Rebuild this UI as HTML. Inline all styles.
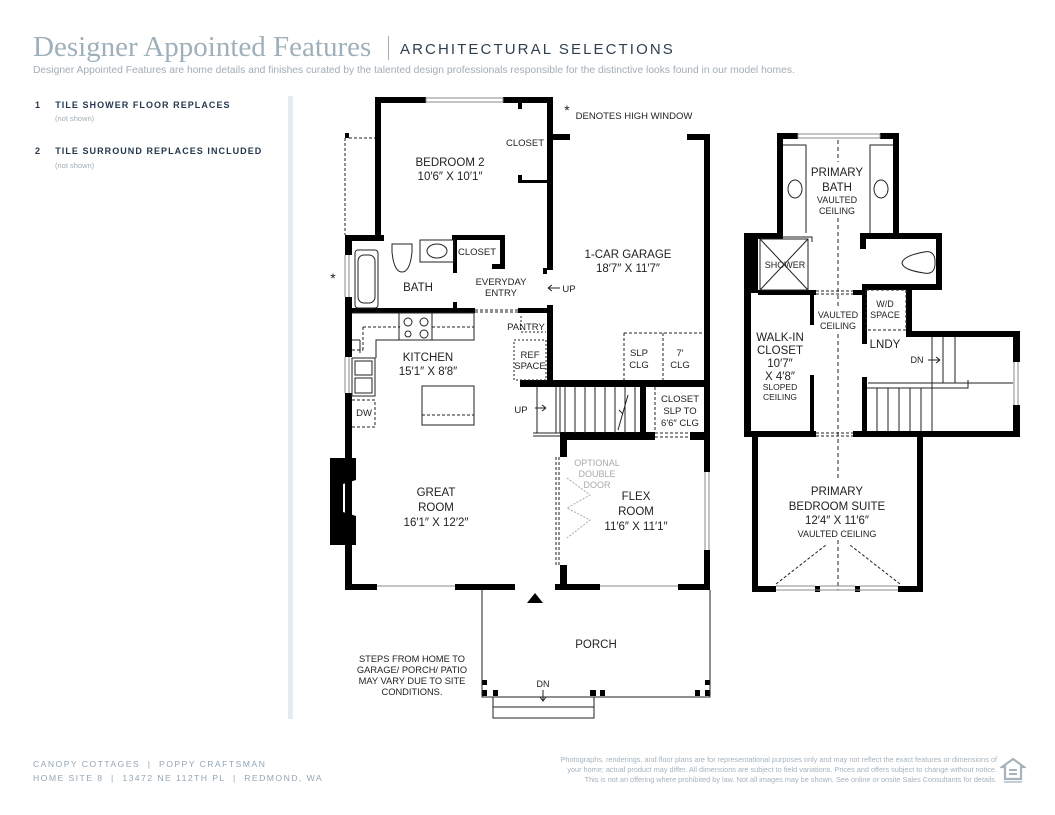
<!DOCTYPE html>
<html><head><meta charset="utf-8"><style>
html,body{margin:0;padding:0;background:#fff;}
body{width:1055px;height:815px;position:relative;overflow:hidden;font-family:"Liberation Sans",sans-serif;}
.t{position:absolute;white-space:nowrap;}
</style></head><body>
<div class="t" style="left:33px;top:31px;font-family:'Liberation Serif',serif;font-size:29px;color:#9fb0ba;">Designer Appointed Features</div>
<div class="t" style="left:388px;top:36px;width:1px;height:24px;background:#9fb0ba;"></div>
<div class="t" style="left:400px;top:41px;font-size:15px;letter-spacing:2.1px;color:#2f3f4e;">ARCHITECTURAL SELECTIONS</div>
<div class="t" style="left:33px;top:65px;font-size:10.3px;color:#a3adb5;">Designer Appointed Features are home details and finishes curated by the talented design professionals responsible for the distinctive looks found in our model homes.</div>
<div class="t" style="left:35px;top:100px;font-size:9px;font-weight:bold;letter-spacing:1.05px;color:#24384d;">1&nbsp;&nbsp;&nbsp;&nbsp;TILE SHOWER FLOOR REPLACES</div>
<div class="t" style="left:55px;top:114px;font-size:7.5px;color:#a3adb5;">(not shown)</div>
<div class="t" style="left:35px;top:146px;font-size:9px;font-weight:bold;letter-spacing:1.05px;color:#24384d;">2&nbsp;&nbsp;&nbsp;&nbsp;TILE SURROUND REPLACES INCLUDED</div>
<div class="t" style="left:55px;top:161px;font-size:7.5px;color:#a3adb5;">(not shown)</div>
<div class="t" style="left:288px;top:96px;width:5px;height:623px;background:#e6ebef;"></div>
<div class="t" style="left:33px;top:759px;font-size:8.7px;letter-spacing:1.4px;color:#93a6b5;">CANOPY COTTAGES &nbsp;| &nbsp;POPPY CRAFTSMAN</div>
<div class="t" style="left:33px;top:773px;font-size:8.7px;letter-spacing:1.4px;color:#93a6b5;">HOME SITE 8 &nbsp;| &nbsp;13472 NE 112TH PL &nbsp;| &nbsp;REDMOND, WA</div>
<div class="t" style="right:58px;top:755px;font-size:7.3px;line-height:10px;color:#a6b3bd;text-align:right;">Photographs, renderings, and floor plans are for representational purposes only and may not reflect the exact features or dimensions of<br>your home; actual product may differ. All dimensions are subject to field variations. Prices and offers subject to change without notice.<br>This is not an offering where prohibited by law. Not all images may be shown. See online or onsite Sales Consultants for details.</div>
<svg class="t" style="left:1000px;top:757px" width="26" height="28" viewBox="0 0 26 28"><path d="M13 2 L24 10 L21 10 L21 22 L5 22 L5 10 L2 10 Z" fill="none" stroke="#a6b3bd" stroke-width="2.2"/><rect x="9" y="12" width="8" height="2" fill="#a6b3bd"/><rect x="9" y="16" width="8" height="2" fill="#a6b3bd"/><rect x="4" y="24" width="18" height="2" fill="#c4ced5"/></svg>

<svg class="t" style="left:0;top:0" width="1055" height="815" viewBox="0 0 1055 815" font-family="Liberation Sans, sans-serif" fill="#111">
<g fill="#000">
<rect x="375" y="97" width="51" height="6"/><rect x="503" y="97" width="50" height="6"/>
<rect x="375" y="97" width="6" height="143"/>
<rect x="547" y="97" width="6" height="173"/>
<rect x="518" y="103" width="4" height="6"/><rect x="518" y="175" width="4" height="8"/><rect x="518" y="180" width="30" height="3"/>
<rect x="345" y="133" width="4" height="5"/>
<rect x="553" y="134" width="17" height="6"/><rect x="687" y="134" width="23" height="6"/>
<rect x="704" y="134" width="6" height="338"/><rect x="704" y="550" width="6" height="40"/>
<rect x="547" y="305" width="6" height="82"/>
<rect x="345" y="235" width="36" height="6"/><rect x="381" y="235" width="3" height="6"/>
<rect x="452" y="235" width="53" height="5"/><rect x="500" y="235" width="5" height="33"/><rect x="492" y="264" width="13" height="5"/>
<rect x="453" y="240" width="4" height="33"/>
<rect x="345" y="235" width="7" height="20"/><rect x="345" y="297" width="7" height="60"/><rect x="345" y="393" width="7" height="197"/>
<rect x="352" y="308" width="123" height="5"/><rect x="453" y="302" width="4" height="10"/>
<rect x="518" y="308" width="30" height="5"/>
<rect x="543" y="268" width="4" height="6"/>
<rect x="520" y="380" width="190" height="7"/>
<rect x="640" y="387" width="6" height="53"/>
<rect x="560" y="432" width="95" height="8"/><rect x="690" y="432" width="20" height="8"/>
<rect x="560" y="432" width="7" height="25"/><rect x="560" y="565" width="7" height="25"/>
<rect x="345" y="584" width="32" height="6"/><rect x="455" y="584" width="60" height="6"/><rect x="555" y="584" width="45" height="6"/><rect x="678" y="584" width="32" height="6"/>
<path d="M330 458 H356 V480 L343 484 V512 L356 516 V545 H330 Z"/>
<rect x="482" y="680" width="5" height="5"/><rect x="482" y="690" width="5" height="6"/><rect x="493" y="690" width="5" height="6"/><rect x="590" y="690" width="6" height="6"/><rect x="600" y="690" width="5" height="6"/><rect x="695" y="690" width="5" height="6"/><rect x="705" y="690" width="5" height="6"/><rect x="705" y="680" width="5" height="5"/>
<path d="M527 603 L535 593 L543 603 Z"/>

<rect x="777" y="133" width="21" height="6"/><rect x="880" y="133" width="19" height="6"/>
<rect x="777" y="133" width="6" height="106"/><rect x="893" y="133" width="6" height="106"/>
<rect x="744" y="233" width="39" height="6"/><rect x="744" y="233" width="14" height="60"/>
<rect x="744" y="233" width="7" height="204"/>
<rect x="860" y="233" width="82" height="6"/><rect x="936" y="233" width="6" height="57"/>
<rect x="860" y="233" width="6" height="16"/><rect x="862" y="284" width="80" height="6"/>
<rect x="862" y="284" width="5" height="60"/><rect x="906" y="284" width="6" height="53"/>
<rect x="906" y="331" width="114" height="6"/><rect x="1013" y="331" width="7" height="31"/><rect x="1013" y="405" width="7" height="32"/>
<rect x="862" y="377" width="5" height="60"/>
<rect x="744" y="431" width="72" height="6"/><rect x="853" y="431" width="167" height="6"/>
<rect x="758" y="290" width="58" height="5"/><rect x="853" y="290" width="12" height="5"/>
<rect x="810" y="290" width="4" height="35"/><rect x="810" y="375" width="4" height="60"/>
<rect x="752" y="437" width="6" height="155"/><rect x="917" y="437" width="6" height="155"/>
<rect x="752" y="586" width="24" height="6"/><rect x="898" y="586" width="25" height="6"/><rect x="815" y="586" width="5" height="6"/><rect x="855" y="586" width="5" height="6"/>
</g>
<g fill="none" stroke="#222" stroke-width="1">
<rect x="426" y="98" width="77" height="4" stroke="#888"/>
<path d="M345 138 V235 M349 138 H375" stroke-dasharray="3,2"/>
<rect x="355" y="250" width="23" height="58" rx="3"/><rect x="358" y="255" width="17" height="48" rx="6"/>
<path d="M392 244 H412 V252 Q410 272 402 272 Q394 272 392 252 Z"/>
<rect x="420" y="240" width="34" height="22"/><ellipse cx="437" cy="251" rx="10" ry="7"/>
<path d="M475 310 H518 M475 312 H518" stroke-dasharray="3,2"/>
<path d="M352 313 H474 V340 H376 V358 M360 340 V353 M352 340 H360" />
<path d="M363 327 H400 M432 327 H474 M363 327 V350 M352 350 H363" stroke-dasharray="3,2"/>
<rect x="399" y="313" width="33" height="27"/>
<circle cx="408" cy="322" r="4"/><circle cx="424" cy="322" r="4"/><circle cx="408" cy="334" r="3"/><circle cx="424" cy="334" r="4"/>
<rect x="352" y="358" width="23" height="38"/><rect x="355" y="361" width="17" height="14"/><rect x="355" y="378" width="17" height="15"/>
<path d="M352 400 H375 V427 H352" stroke-dasharray="3,2"/>
<rect x="422" y="386" width="52" height="39"/><path d="M422 415 H474" stroke-dasharray="3,2"/>
<path d="M521 316 V332 H546" stroke-dasharray="2,2"/>
<rect x="514" y="340" width="32" height="40" stroke-dasharray="2,2"/>
<path d="M537 387 V433 M533 433 H560 M533 436 H560 M556 387 V433 M560 387 V433"/>
<path d="M565 387 V433 M575 387 V433 M585 387 V433 M595 387 V433 M605 387 V433 M615 387 V433 M625 387 V433 M635 387 V433"/>
<path d="M628 395 L618 430 M619 410 l4 4" />
<path d="M624 333 H704 M624 333 V380 M663 333 V380" stroke-dasharray="3,2"/>
<path d="M655 387 V432 M655 433 H690 M655 437 H690" stroke-dasharray="3,2"/>
<path d="M559 457 V565 M556 457 V565" stroke-dasharray="3,2"/>
<path d="M567 478 L590 495 L567 508 L590 520 L567 538" stroke="#aaa" stroke-dasharray="2,1.5"/>
<path d="M705 472 V550 M709 472 V550" stroke="#888"/>
<path d="M377 586 H455 M600 586 H678" stroke="#888"/>
<path d="M345 255 V297 M349 255 V297 M345 357 V393 M349 357 V393" stroke="#888"/>
<path d="M482 590 V697 H710 V590"/>
<rect x="493" y="697" width="101" height="10"/><rect x="493" y="707" width="101" height="11"/>
<path d="M543 690 V700 M540 697 L543 701 L546 697"/>
<path d="M548 288 H560 M548 288 l4 -3 M548 288 l4 3"/>
<path d="M535 408 H546 M546 408 l-4 -3 M546 408 l-4 3"/>
<rect x="798" y="134" width="82" height="4" stroke="#888"/>
<path d="M783 145 H806 V233 M893 145 H870 V233"/>
<ellipse cx="795" cy="189" rx="7" ry="9"/><ellipse cx="881" cy="189" rx="7" ry="9"/>
<path d="M838 140 V162 M838 218 V308 M838 334 V480 M838 540 V590" stroke-dasharray="4,3"/>
<rect x="760" y="239" width="48" height="51"/><path d="M760 239 L808 290 M808 239 L760 290"/>
<path d="M782 237 H812 V242" />
<path d="M935 260 Q934 250 924 252 Q903 256 902 263 Q903 270 924 273 Q934 275 935 265 Z"/>
<rect x="866" y="290" width="40" height="40" stroke-dasharray="3,2"/>
<path d="M816 291 H853 M816 294 H853 M816 433 H853 M816 436 H853" stroke-dasharray="3,2"/>
<path d="M868 383 H1013 M932 337 V383 M943 337 V383 M955 337 V383 M932 380 V388 H968 V380"/>
<path d="M877 388 V431 M888 388 V431 M899 388 V431 M910 388 V431 M921 388 V431 M932 388 V431 M867 388 H968"/>
<path d="M1014 362 V405 M1018 362 V405" stroke="#888"/>
<path d="M776 586 H815 M820 586 H855 M860 586 H898 M776 590 H898" stroke="#888"/>
<path d="M776 584 L826 545 M900 584 L850 545" stroke-dasharray="3,2"/>
<path d="M928 360 H940 M940 360 l-4 -3 M940 360 l-4 3"/>
</g>
<g font-size="11.5" text-anchor="middle" fill="#222">
<text x="450" y="166">BEDROOM 2</text><text x="450" y="180">10′6″ X 10′1″</text>
<text x="525" y="146" font-size="9.5">CLOSET</text>
<text x="477" y="255" font-size="9.5">CLOSET</text>
<text x="418" y="291">BATH</text>
<text x="501" y="285" font-size="9.5">EVERYDAY</text><text x="501" y="296" font-size="9.5">ENTRY</text>
<text x="569" y="292" font-size="9.5">UP</text>
<text x="628" y="258">1-CAR GARAGE</text><text x="628" y="272">18′7″ X 11′7″</text>
<text x="526" y="330" font-size="9.5">PANTRY</text>
<text x="530" y="358" font-size="9.5">REF</text><text x="530" y="369" font-size="9.5">SPACE</text>
<text x="428" y="361">KITCHEN</text><text x="428" y="375">15′1″ X 8′8″</text>
<text x="364" y="416" font-size="9.5">DW</text>
<text x="521" y="413" font-size="9.5">UP</text>
<text x="639" y="356" font-size="9.5">SLP</text><text x="639" y="368" font-size="9.5">CLG</text>
<text x="680" y="356" font-size="9.5">7′</text><text x="680" y="368" font-size="9.5">CLG</text>
<text x="680" y="402" font-size="9.5">CLOSET</text><text x="680" y="414" font-size="9.5">SLP TO</text><text x="680" y="426" font-size="9.5">6′6″ CLG</text>
<text x="597" y="466" font-size="9" fill="#aaa">OPTIONAL</text><text x="597" y="477" font-size="9" fill="#aaa">DOUBLE</text><text x="597" y="488" font-size="9" fill="#aaa">DOOR</text>
<text x="436" y="496">GREAT</text><text x="436" y="511">ROOM</text><text x="436" y="526">16′1″ X 12′2″</text>
<text x="636" y="500">FLEX</text><text x="636" y="515">ROOM</text><text x="636" y="530">11′6″ X 11′1″</text>
<text x="596" y="648">PORCH</text>
<text x="543" y="687" font-size="9">DN</text>
<g font-size="9.3"><text x="412" y="662">STEPS FROM HOME TO</text><text x="412" y="673">GARAGE/ PORCH/ PATIO</text><text x="412" y="684">MAY VARY DUE TO SITE</text><text x="412" y="695">CONDITIONS.</text></g>
<text x="333" y="283" font-size="14">*</text>
<text x="567" y="115" font-size="14">*</text>
<text x="634" y="119" font-size="9.5">DENOTES HIGH WINDOW</text>
<text x="837" y="176">PRIMARY</text><text x="837" y="191">BATH</text>
<text x="837" y="203" font-size="9">VAULTED</text><text x="837" y="214" font-size="9">CEILING</text>
<text x="785" y="268" font-size="9">SHOWER</text>
<text x="838" y="318" font-size="9">VAULTED</text><text x="838" y="329" font-size="9">CEILING</text>
<text x="885" y="307" font-size="9">W/D</text><text x="885" y="318" font-size="9">SPACE</text>
<text x="885" y="348">LNDY</text>
<text x="917" y="363" font-size="9">DN</text>
<text x="780" y="341">WALK-IN</text><text x="780" y="354">CLOSET</text><text x="780" y="367">10′7″</text><text x="780" y="380">X 4′8″</text>
<text x="780" y="390" font-size="8.5">SLOPED</text><text x="780" y="400" font-size="8.5">CEILING</text>
<text x="837" y="495">PRIMARY</text><text x="837" y="510">BEDROOM SUITE</text><text x="837" y="524">12′4″ X 11′6″</text>
<text x="837" y="537" font-size="9">VAULTED CEILING</text>
</g>
</svg>
</body></html>
